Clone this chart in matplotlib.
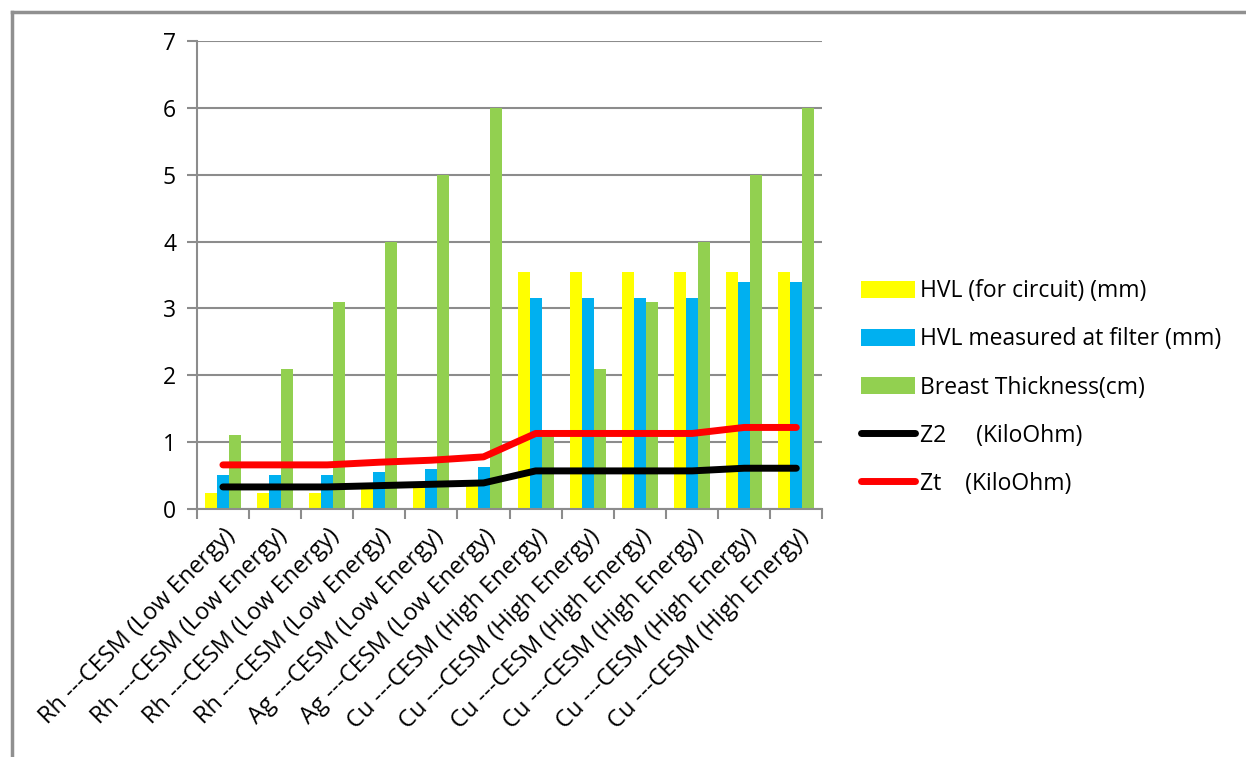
import numpy as np
import matplotlib
matplotlib.use('agg')
import matplotlib.pyplot as plt
from matplotlib.lines import Line2D

plt.rcParams['font.family'] = ['Open Sans', 'DejaVu Sans']

categories = ['Rh ---CESM (Low Energy)', 'Rh ---CESM (Low Energy)', 'Rh ---CESM (Low Energy)',
              'Rh ---CESM (Low Energy)', 'Ag ---CESM (Low Energy)', 'Ag ---CESM (Low Energy)',
              'Cu ---CESM (High Energy)', 'Cu ---CESM (High Energy)', 'Cu ---CESM (High Energy)',
              'Cu ---CESM (High Energy)', 'Cu ---CESM (High Energy)', 'Cu ---CESM (High Energy)']

hvl_circuit = [0.24, 0.24, 0.24, 0.30, 0.33, 0.35, 3.54, 3.54, 3.54, 3.54, 3.54, 3.54]
hvl_filter = [0.51, 0.51, 0.51, 0.55, 0.60, 0.63, 3.15, 3.15, 3.15, 3.15, 3.39, 3.39]
thickness = [1.1, 2.1, 3.1, 4.0, 5.0, 6.0, 1.1, 2.1, 3.1, 4.0, 5.0, 6.0]
z2 = [0.33, 0.33, 0.33, 0.35, 0.37, 0.39, 0.57, 0.57, 0.57, 0.57, 0.61, 0.61]
zt = [0.66, 0.66, 0.66, 0.70, 0.73, 0.78, 1.13, 1.13, 1.13, 1.13, 1.22, 1.22]

yticks = [0, 1, 2, 3, 4, 5, 6, 7]

grey = '#8c8c8c'
fs = 16.5

fig = plt.figure(figsize=(12.46, 7.57), dpi=100)
ax = fig.add_axes([0.158, 0.3276, 0.502, 0.6182])

x = np.arange(len(categories))
w = 0.23
b1 = ax.bar(x - w, hvl_circuit, w, color='#ffff00', label='HVL (for circuit) (mm)', zorder=2)
b2 = ax.bar(x, hvl_filter, w, color='#00b0f0', label='HVL measured at filter (mm)', zorder=2)
b3 = ax.bar(x + w, thickness, w, color='#92d050', label='Breast Thickness(cm)', zorder=2)
l1, = ax.plot(x, z2, color='black', lw=5, solid_capstyle='round', solid_joinstyle='round',
              label='Z2     (KiloOhm)', zorder=3)
l2, = ax.plot(x, zt, color='#ff0000', lw=5, solid_capstyle='round', solid_joinstyle='round',
              label='Zt    (KiloOhm)', zorder=3)

ax.set_xlim(-0.5, len(categories) - 0.5)
ax.set_ylim(0, 7)
ax.set_yticks(yticks)
ax.set_yticklabels([str(v) for v in yticks], fontsize=fs)
ax.yaxis.grid(True, color=grey, lw=1.5, zorder=0)
ax.set_axisbelow(True)

# category boundaries carry the tick marks, labels sit at the centres
ax.set_xticks(np.arange(-0.5, len(categories)), minor=False)
ax.set_xticklabels([])
ax.set_xticks(x, minor=True)
ax.set_xticklabels(categories, minor=True, rotation=45, ha='right', va='top',
                   rotation_mode='anchor', fontsize=17)
ax.tick_params(axis='x', which='minor', length=0, pad=11)
ax.tick_params(axis='x', which='major', length=7, width=1.5, color=grey, direction='out')
ax.tick_params(axis='y', length=7, width=1.5, color=grey, direction='out', pad=8)

for s in ['top', 'right']:
    ax.spines[s].set_visible(False)
for s in ['left', 'bottom']:
    ax.spines[s].set_color(grey)
    ax.spines[s].set_linewidth(1.5)

handles = [b1, b2, b3, l1, l2]
leg = fig.legend(handles=handles, labels=[h.get_label() for h in handles],
                 loc='upper left', bbox_to_anchor=(0.684, 0.643), frameon=False,
                 fontsize=fs, handlelength=2.35, handleheight=0.75, handletextpad=0.2,
                 labelspacing=1.05, borderaxespad=0)

# outer chart frame
fig.add_artist(Line2D([0.0096, 1.0], [0.984, 0.984], color='#909090', lw=2.5,
                      transform=fig.transFigure))
fig.add_artist(Line2D([0.0096, 0.0096], [0.0, 0.984], color='#909090', lw=2.5,
                      transform=fig.transFigure))

fig.savefig('out.png', dpi=100)
